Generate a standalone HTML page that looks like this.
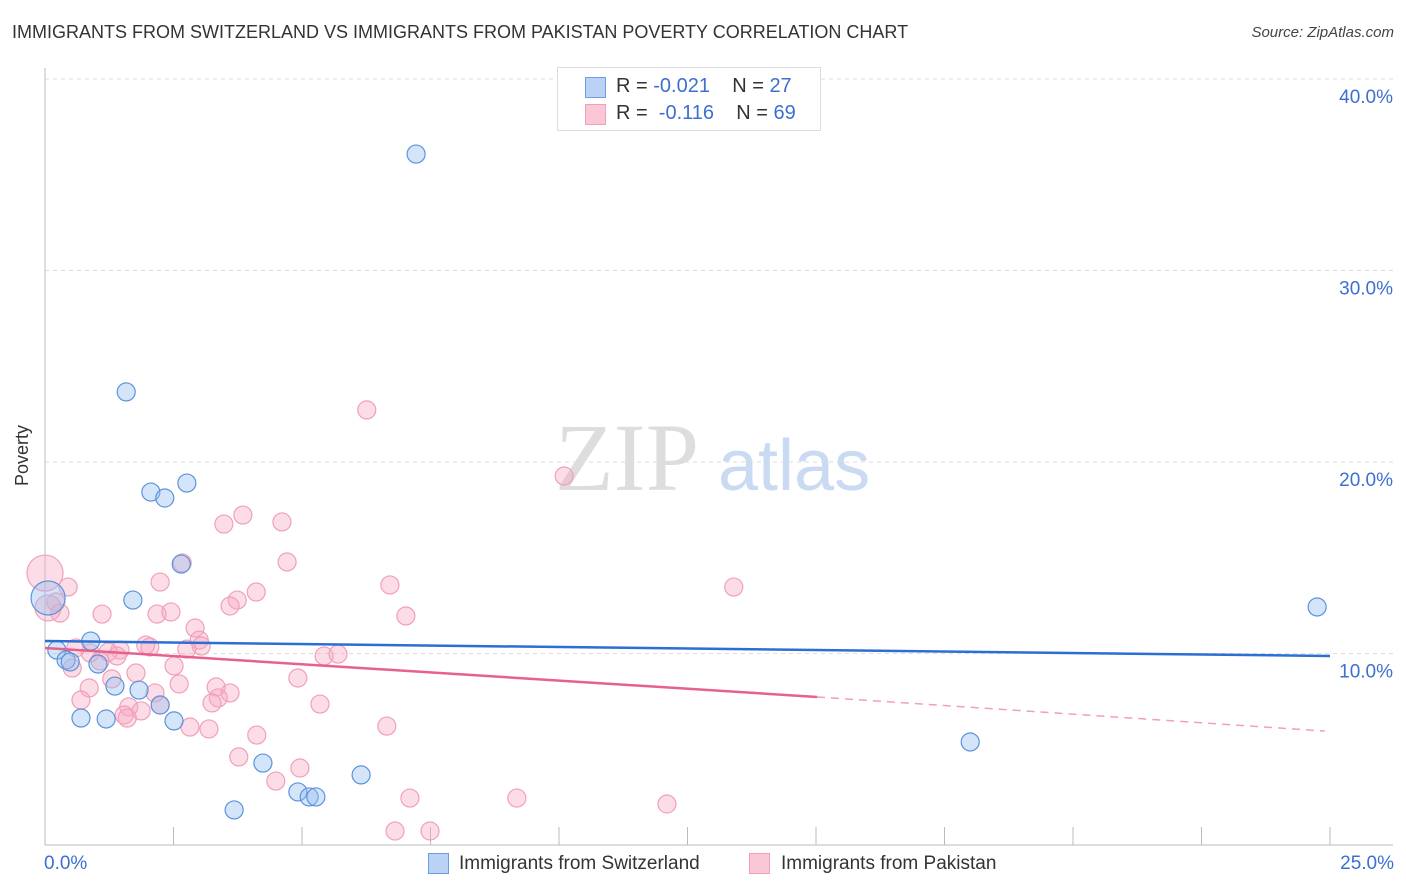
<!DOCTYPE html>
<html><head><meta charset="utf-8"><style>
body{margin:0;background:#fff;font-family:"Liberation Sans",sans-serif}
#wrap{position:relative;width:1406px;height:892px;overflow:hidden}
.t{position:absolute;white-space:nowrap}
</style></head><body>
<div id="wrap">
<div class="t" style="left:12px;top:22px;font-size:18px;color:#333">IMMIGRANTS FROM SWITZERLAND VS IMMIGRANTS FROM PAKISTAN POVERTY CORRELATION CHART</div>
<div class="t" style="right:12px;top:24px;font-size:15px;color:#444;font-style:italic">Source: ZipAtlas.com</div>
<svg id="svg" width="1406" height="892" style="position:absolute;left:0;top:0"></svg>
</div>
<script>
const xTicks=[0,2.5,5,7.5,10,12.5,15,17.5,20,22.5,25];
const yTicks=[10,20,30,40];
const yTickLabels=["10.0%","20.0%","30.0%","40.0%"];
const swissX=[7.22,1.58,2.06,2.33,2.76,2.65,1.71,0.06,0.89,0.23,0.41,1.03,1.36,1.83,2.24,0.70,1.19,2.51,4.24,6.15,4.92,5.14,5.27,3.68,18.0,24.75,0.49];
const swissY=[36.08,23.66,18.43,18.12,18.90,14.67,12.79,12.90,10.65,10.18,9.66,9.45,8.30,8.09,7.31,6.63,6.58,6.48,4.28,3.66,2.77,2.51,2.51,1.83,5.38,12.43,9.56];
const swissR=[9,9,9,9,9,9,9,17,9,9,9,9,9,9,9,9,9,9,9,9,9,9,9,9,9,9,9];
const pakX=[0,0.45,0.21,0.29,0.06,1.11,2.24,2.18,2.45,2.67,3.48,3.85,4.61,4.71,4.11,3.74,3.60,2.92,3.00,3.04,2.76,1.96,2.04,1.46,1.23,0.88,0.60,1.40,1.07,0.53,2.51,0.86,0.70,1.30,1.77,2.61,3.33,3.60,3.37,3.25,2.14,2.24,1.63,1.54,1.87,1.60,4.92,5.35,2.82,3.19,4.12,3.77,4.96,4.49,5.43,5.70,6.65,6.26,10.10,6.71,7.02,13.40,7.10,9.18,12.10,6.81,7.49];
const pakY=[14.2,13.47,12.69,12.11,12.38,12.06,13.73,12.06,12.17,14.73,16.76,17.23,16.87,14.78,13.21,12.79,12.48,11.33,10.70,10.39,10.23,10.44,10.34,10.18,10.08,10.03,10.29,9.87,9.61,9.24,9.35,8.20,7.57,8.67,8.98,8.41,8.25,7.94,7.68,7.42,7.94,7.31,7.21,6.79,7.00,6.63,8.72,7.36,6.16,6.06,5.74,4.60,4.02,3.34,9.87,9.97,6.21,22.72,19.27,13.58,11.96,13.47,2.45,2.45,2.14,0.73,0.73];
const swissTrend=[[0,10.65],[25,9.87]];
const pakTrendSolid=[[0,10.29],[15.02,7.73]];
const pakTrendDash=[[15.02,7.73],[24.9,5.95]];
const X=v=>45+v*51.4, Y=v=>845-v*19.15;
const svg=document.getElementById('svg'),NS='http://www.w3.org/2000/svg';
function mk(tag,a,name,parent){const e=document.createElementNS(NS,tag);for(const k in a)e.setAttribute(k,a[k]);


(parent||svg).appendChild(e);return e;}
yTicks.forEach((v,i)=>{mk('line',{x1:45,x2:1393,y1:Y(v),y2:Y(v),stroke:'#ddd','stroke-dasharray':'4,4'},'gridline');
const t=mk('text',{x:1393,y:Y(v)+24,'text-anchor':'end','font-size':19,fill:'#3d6fd0','font-family':'Liberation Sans'},'y-tick-label');t.textContent=yTickLabels[i];});
mk('line',{x1:45,x2:45,y1:68,y2:845,stroke:'#bbb'},'y-axis');
mk('line',{x1:45,x2:1393,y1:845,y2:845,stroke:'#bbb'},'x-axis');
xTicks.forEach(v=>{if(v>0)mk('line',{x1:X(v),x2:X(v),y1:827,y2:845,stroke:'#bbb'},'x-tick');});
const w1=mk('text',{x:555,y:490,'font-size':96,fill:'#ddd','font-family':'Liberation Serif'},'watermark-zip');w1.textContent='ZIP';
const w2=mk('text',{x:718,y:490,'font-size':72,fill:'#c9daf2','font-family':'Liberation Sans'},'watermark-atlas');w2.textContent='atlas';
pakX.forEach((x,i)=>mk('circle',{cx:X(x),cy:Y(pakY[i]),r:(i==0?18:(i==4?13:9)),fill:'rgba(248,170,195,0.4)',stroke:'#f0a0b8','stroke-width':1.2},'pakistan-point'));
swissX.forEach((x,i)=>mk('circle',{cx:X(x),cy:Y(swissY[i]),r:swissR[i],fill:'rgba(150,190,240,0.4)',stroke:'#5b93dc','stroke-width':1.2},'switzerland-point'));
const L=(p,a,n)=>mk('line',Object.assign({x1:X(p[0][0]),y1:Y(p[0][1]),x2:X(p[1][0]),y2:Y(p[1][1])},a),n);
L(pakTrendDash,{stroke:'#f0a0b8','stroke-width':1.5,'stroke-dasharray':'8,6'},'pakistan-trend-dashed');
L(pakTrendSolid,{stroke:'#e8608d','stroke-width':2.5},'pakistan-trend');
L(swissTrend,{stroke:'#2a6fd4','stroke-width':2.5},'switzerland-trend');
</script>
<div class="t" style="left:-8px;top:445px;font-size:18px;color:#333;transform:rotate(-90deg)">Poverty</div>
<div class="t" style="left:44px;top:853px;font-size:19px;color:#3d6fd0">0.0%</div>
<div class="t" style="right:12px;top:853px;font-size:19px;color:#3d6fd0">25.0%</div>
<div style="position:absolute;left:557px;top:67px;width:262px;height:62px;border:1px solid #ddd;background:#fff;font-size:20px;color:#333">
 <div style="position:absolute;left:27px;top:9px;width:19px;height:19px;background:#b9d2f5;border:1px solid #6c9de0"></div>
 <div class="t" style="left:58px;top:7px">R = <span style="color:#3d6fd0">-0.021</span>&nbsp;&nbsp;&nbsp; N = <span style="color:#3d6fd0">27</span></div>
 <div style="position:absolute;left:27px;top:36px;width:19px;height:19px;background:#fbc6d6;border:1px solid #f0a0b8"></div>
 <div class="t" style="left:58px;top:34px">R = &nbsp;<span style="color:#3d6fd0">-0.116</span>&nbsp;&nbsp;&nbsp; N = <span style="color:#3d6fd0">69</span></div>
</div>
<div style="position:absolute;left:428px;top:853px;font-size:19px;color:#333">
 <div style="position:absolute;left:0;top:0;width:19px;height:19px;background:#b9d2f5;border:1px solid #6c9de0"></div>
 <div class="t" style="left:31px;top:0">Immigrants from Switzerland</div>
 <div style="position:absolute;left:321px;top:0;width:19px;height:19px;background:#fbc6d6;border:1px solid #f0a0b8"></div>
 <div class="t" style="left:353px;top:0">Immigrants from Pakistan</div>
</div>
</body></html>
